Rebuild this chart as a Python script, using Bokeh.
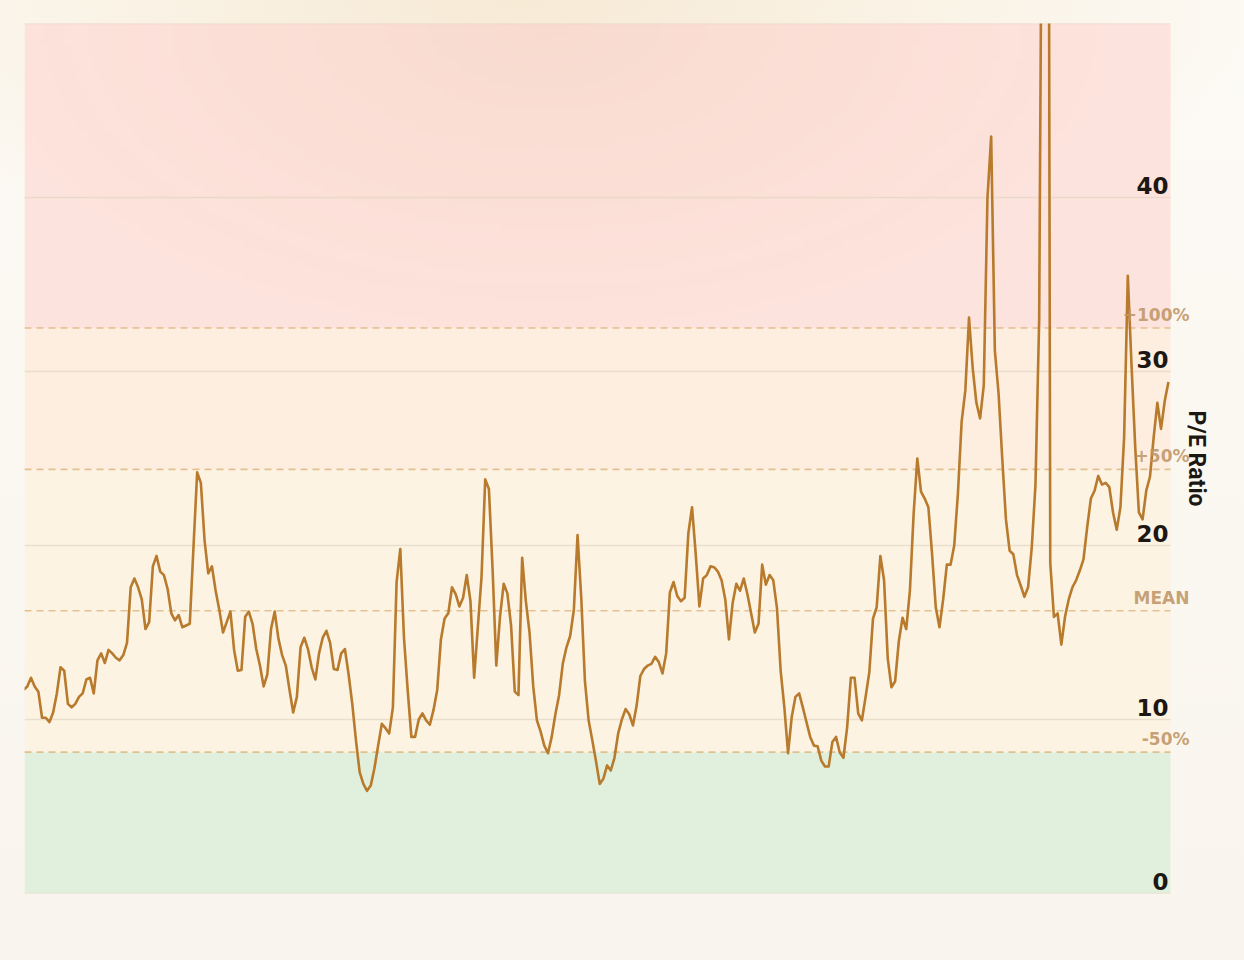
import numpy as np
from bokeh.plotting import figure
from bokeh.models import Range1d, Label, ColumnDataSource
from bokeh.embed import file_html
from bokeh.resources import INLINE

# ---- data (semi-annual trailing P/E) ----
pe_ratio = [
    11.7, 11.9, 12.4, 11.9, 11.6, 10.1, 10.1, 9.85, 10.4, 11.5, 13.0, 12.8, 10.9, 10.7, 10.9, 11.3, 11.5, 12.3, 12.4, 11.5, 13.4, 13.8, 13.25, 14.0, 13.8, 13.55, 13.4, 13.7,
    14.4, 17.6, 18.1, 17.6, 16.9, 15.2, 15.6, 18.8, 19.4, 18.5, 18.3, 17.5, 16.1, 15.7, 16.0, 15.3, 15.4, 15.5, 19.9, 24.2, 23.6, 20.3, 18.4, 18.8, 17.4, 16.3, 15.0, 15.6, 16.2, 14.0,
    12.8, 12.85, 15.9, 16.2, 15.5, 14.05, 13.1, 11.9, 12.6, 15.2, 16.2, 14.65, 13.7, 13.1, 11.7, 10.4, 11.3, 14.15, 14.7, 14.05, 13.0, 12.3, 13.8, 14.7, 15.1, 14.4, 12.9, 12.85, 13.8,
    14.05, 12.6, 10.9, 8.8, 6.97, 6.3, 5.9, 6.2, 7.2, 8.5, 9.75, 9.5, 9.2, 10.7, 17.9, 19.8, 14.7, 11.7, 9.0, 9.0, 10.0, 10.35, 9.95, 9.7, 10.55, 11.7, 14.6, 15.8,
    16.1, 17.6, 17.2, 16.5, 17.0, 18.3, 16.8, 12.4, 15.3, 18.2, 23.8, 23.25, 18.6, 13.1, 15.9, 17.8, 17.25, 15.4, 11.6, 11.4, 19.3, 16.8, 15.0, 11.9, 9.95, 9.3, 8.5, 8.06, 9.0,
    10.3, 11.4, 13.2, 14.15, 14.8, 16.3, 20.6, 17.0, 12.2, 9.95, 8.8, 7.6, 6.3, 6.6, 7.36, 7.07, 7.8, 9.2, 10.0, 10.6, 10.3, 9.66, 10.8, 12.5, 12.9, 13.1, 13.2, 13.6,
    13.3, 12.65, 13.8, 17.3, 17.9, 17.1, 16.8, 17.0, 20.7, 22.2, 19.5, 16.5, 18.1, 18.3, 18.8, 18.75, 18.5, 18.0, 16.9, 14.6, 16.7, 17.8, 17.4, 18.1, 17.2, 16.1, 15.0, 15.5,
    18.9, 17.75, 18.3, 18.0, 16.4, 12.8, 10.7, 8.06, 10.15, 11.3, 11.5, 10.7, 9.84, 9.0, 8.5, 8.46, 7.64, 7.3, 7.3, 8.7, 9.0, 8.1, 7.8, 9.55, 12.4, 12.4, 10.35, 9.95, 11.3,
    12.7, 15.8, 16.45, 19.4, 18.0, 13.5, 11.85, 12.2, 14.5, 15.85, 15.2, 17.4, 21.8, 25.0, 23.1, 22.7, 22.2, 19.5, 16.45, 15.3, 16.9, 18.9, 18.9, 20.0, 23.0, 27.1, 28.9, 33.1,
    30.2, 28.2, 27.3, 29.2, 40.0, 43.5, 31.2, 28.75, 25.0, 21.5, 19.7, 19.5, 18.3, 17.7, 17.05, 17.6, 19.9, 23.5, 33.0, 70.0, 120.0, 19.0, 15.9, 16.1, 14.3, 15.9, 16.9,
    17.6, 18.0, 18.56, 19.2, 21.05, 22.7, 23.15, 24.0, 23.5, 23.6, 23.35, 21.9, 20.9, 22.2, 26.2, 35.5, 30.4, 25.7, 21.9, 21.5, 23.15, 23.95, 26.2, 28.2, 26.7, 28.3, 29.4,
]
period_index = list(range(len(pe_ratio)))

mean_pe = 16.25
band_names = ["+100%", "+50%", "MEAN", "-50%"]
band_multipliers = [2.0, 1.5, 1.0, 0.5]
tick_values = [0, 10, 20, 30, 40]
grid_values = [0, 10, 20, 30, 40, 50]
y_max = 50

# ---- figure ----
PX_PER_STEP = 3.693
x_start = 0.244                      # data x at the left edge of the chart area
x_band_end = 310.56                  # right edge of the shaded chart area
frame_w = 1212
x_end = x_start + frame_w / PX_PER_STEP

p = figure(width=1236, height=950, output_backend="svg", toolbar_location=None,
           x_range=Range1d(x_start, x_end), y_range=Range1d(0, y_max),
           min_border_left=24, min_border_right=0, min_border_top=23, min_border_bottom=57)
p.xaxis.visible = False
p.yaxis.visible = False
p.xgrid.visible = False
p.ygrid.visible = False
p.outline_line_color = None
p.border_fill_color = None
p.border_fill_alpha = 0
p.background_fill_color = None

levels = [mean_pe * m for m in band_multipliers]

# zone fills
zone_bottom = [levels[0], levels[1], levels[3], 0]
zone_top = [y_max, levels[0], levels[1], levels[3]]
zone_color = ["#fde3dd", "#fdeee0", "#fcf3e3", "#e1f0dd"]
p.quad(left=x_start, right=x_band_end, bottom=zone_bottom, top=zone_top,
       fill_color=zone_color, line_color=None, level="image")

# warm glow at the top of the chart area
H, W = 80, 200
img = np.empty((H, W), dtype=np.uint32)
view = img.view(dtype=np.uint8).reshape((H, W, 4))
glow_bottom = 25.0
jj, ii = np.mgrid[0:H, 0:W]
px = (ii + 0.5) / W * 1146.0
py = (y_max - (glow_bottom + (jj + 0.5) / H * (y_max - glow_bottom))) * 17.4
d = np.sqrt(((px - 520.0) / 600.0) ** 2 + (py / 330.0) ** 2)
alpha = 0.24 * np.clip(1.0 - d, 0, 1) ** 1.2
view[:, :, 0] = 236
view[:, :, 1] = 192
view[:, :, 2] = 160
view[:, :, 3] = (alpha * 255).astype(np.uint8)
p.image_rgba(image=[img], x=x_start, y=glow_bottom, dw=x_band_end - x_start,
             dh=y_max - glow_bottom, level="image")

# grid lines
p.segment(x0=x_start, x1=x_band_end, y0=grid_values, y1=grid_values,
          line_color="#e3d5c2", line_alpha=0.7, line_width=1.5, level="underlay")

# dashed reference lines
p.segment(x0=x_start, x1=x_band_end, y0=levels, y1=levels,
          line_color="#e0bd8a", line_width=1.6, line_dash="7 5", line_alpha=0.95, level="underlay")

src = ColumnDataSource(dict(x=period_index, y=pe_ratio))
p.line("x", "y", source=src, line_color="#b87a2c", line_width=2.6, line_join="round")

# tick labels (inside plot, right aligned, just above their grid lines)
for t in tick_values:
    p.add_layout(Label(x=x_band_end, y=t, text=str(t), text_align="right", text_baseline="middle",
                       x_offset=-2, y_offset=12, text_font="DejaVu Sans", text_font_style="bold",
                       text_font_size="23px", text_color="#1c1712"))

# band labels
for name, lv in zip(band_names, levels):
    p.add_layout(Label(x=x_band_end, y=lv, text=name, text_align="right", text_baseline="middle",
                       x_offset=19, y_offset=13, text_font="DejaVu Sans", text_font_style="bold",
                       text_font_size="17px", text_color="#bf9668", text_alpha=0.9))

# axis title
p.add_layout(Label(x=x_band_end, y=y_max / 2, text="P/E Ratio", angle=-np.pi / 2, text_align="center",
                   text_baseline="middle", x_offset=26, y_offset=0, text_font="Roboto",
                   text_font_style="bold", text_font_size="23px", text_color="#1c1712"))

html = file_html(p, INLINE, title="P/E Ratio")
style = ("<style>html,body{background:radial-gradient(ellipse 760px 260px at 520px 0px, #f7ead5 0%, "
         "rgba(251,247,240,0) 100%), linear-gradient(#fcfaf4, #f9f5ee) !important;}</style>")
html = html.replace("</head>", style + "</head>", 1)
open("out.html", "w").write(html)
